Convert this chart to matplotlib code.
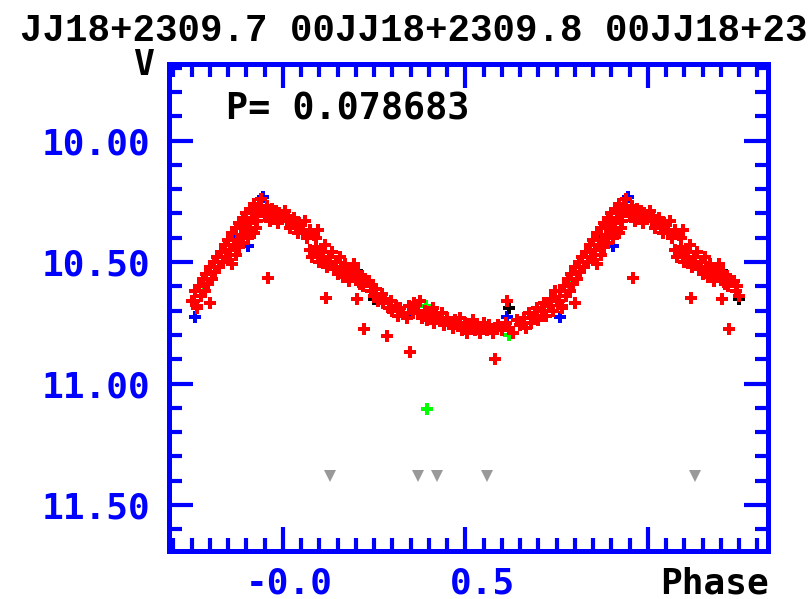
import matplotlib
matplotlib.use("Agg")
import matplotlib.pyplot as plt
from matplotlib.ticker import FixedLocator, MultipleLocator
from matplotlib.transforms import ScaledTranslation

# Phase-folded V light curve, phases stored in [0, 1)
red_phase = [
    0.005, 0.010, 0.015, 0.020, 0.030, 0.035, 0.040, 0.045, 0.055, 0.060,
    0.065, 0.075, 0.085, 0.090, 0.095,
    0.075, 0.080, 0.090, 0.095, 0.100, 0.105, 0.110, 0.115, 0.120, 0.125,
    0.130, 0.135, 0.140, 0.145, 0.150, 0.155, 0.160, 0.165, 0.170, 0.175,
    0.180, 0.185, 0.190, 0.195, 0.200, 0.205, 0.210, 0.215, 0.220, 0.225,
    0.235, 0.240, 0.245, 0.250, 0.255, 0.203, 0.260, 0.270, 0.275, 0.280,
    0.290, 0.295, 0.300, 0.310, 0.315, 0.320, 0.330, 0.340,
    0.345, 0.355, 0.360, 0.370, 0.375, 0.380, 0.390, 0.395, 0.400, 0.410,
    0.415, 0.420, 0.430, 0.435, 0.440, 0.450, 0.455, 0.465, 0.470, 0.480,
    0.485, 0.490, 0.500, 0.505, 0.510, 0.520, 0.525, 0.530, 0.540, 0.545,
    0.550, 0.560, 0.565, 0.575, 0.580, 0.590, 0.600, 0.610, 0.620, 0.630,
    0.640, 0.650, 0.614,
    0.660, 0.665, 0.675, 0.680, 0.690, 0.695, 0.700, 0.710, 0.715, 0.720,
    0.730, 0.735, 0.740, 0.750, 0.745,
    0.755, 0.760, 0.765, 0.770, 0.775, 0.780, 0.785, 0.790, 0.795, 0.800,
    0.805, 0.810, 0.815, 0.820, 0.825,
    0.830, 0.835, 0.840, 0.845, 0.850, 0.855, 0.860, 0.865, 0.870, 0.875,
    0.880, 0.885, 0.890, 0.895, 0.900,
    0.850, 0.860, 0.870, 0.880, 0.890, 0.905, 0.920,
    0.900, 0.905, 0.910, 0.915, 0.920, 0.925, 0.930, 0.935, 0.940, 0.945,
    0.950, 0.955, 0.960, 0.965, 0.970, 0.975, 0.980, 0.985, 0.990, 0.995,
    0.910, 0.925,
    0.959, 0.118, 0.222, 0.285, 0.348, 0.581, 0.800, 0.764,
]
red_mag = [
    10.29, 10.33, 10.31, 10.36, 10.32, 10.35, 10.38, 10.34, 10.37, 10.33,
    10.40, 10.37, 10.39, 10.40, 10.37,
    10.45, 10.48, 10.44, 10.47, 10.50, 10.46, 10.49, 10.43, 10.52, 10.48,
    10.50, 10.46, 10.53, 10.50, 10.55, 10.48, 10.52, 10.56, 10.51, 10.54,
    10.58, 10.53, 10.56, 10.51, 10.57, 10.54, 10.59, 10.56, 10.60, 10.57,
    10.58, 10.62, 10.60, 10.64, 10.61, 10.65, 10.66, 10.63, 10.67, 10.65,
    10.69, 10.66, 10.70, 10.68, 10.72, 10.69, 10.71, 10.73,
    10.68, 10.71, 10.67, 10.70, 10.66, 10.73, 10.70, 10.74, 10.72, 10.69,
    10.75, 10.72, 10.74, 10.71, 10.76, 10.73, 10.75, 10.77, 10.74, 10.76,
    10.73, 10.78, 10.75, 10.79, 10.77, 10.74, 10.78, 10.76, 10.79, 10.77,
    10.75, 10.78, 10.76, 10.79, 10.77, 10.76, 10.78, 10.75, 10.77, 10.79,
    10.74, 10.76, 10.66,
    10.73, 10.77, 10.71, 10.75, 10.72, 10.69, 10.74, 10.70, 10.67, 10.72,
    10.68, 10.65, 10.70, 10.66, 10.62,
    10.66, 10.62, 10.68, 10.60, 10.64, 10.57, 10.62, 10.55, 10.59, 10.52,
    10.57, 10.50, 10.54, 10.48, 10.52,
    10.46, 10.50, 10.43, 10.48, 10.41, 10.45, 10.38, 10.43, 10.36, 10.41,
    10.34, 10.39, 10.32, 10.37, 10.35,
    10.49, 10.51, 10.47, 10.44, 10.42, 10.40, 10.38,
    10.30, 10.34, 10.28, 10.32, 10.26, 10.30, 10.33, 10.27, 10.24, 10.29,
    10.31, 10.27, 10.30, 10.33, 10.28, 10.31, 10.29, 10.34, 10.30, 10.32,
    10.37, 10.36,
    10.565, 10.647, 10.775, 10.804, 10.869, 10.898, 10.667, 10.69,
]
blue_phase = [0.945, 0.904, 0.866, 0.759, 0.348, 0.614]
blue_mag = [10.232, 10.432, 10.39, 10.725, 10.71, 10.725]
green_phase = [0.783, 0.392, 0.618, 0.395]
green_mag = [10.60, 10.68, 10.80, 11.104]
black_phase = [0.214, 0.250, 0.620]
black_mag = [10.553, 10.65, 10.69]
limit_phase = [0.129, 0.370, 0.422, 0.559]
limit_mag = [11.38, 11.38, 11.38, 11.38]

PHASE_MIN, PHASE_MAX = -0.25, 1.25
BLUE = "#0000FF"
MONO = "DejaVu Sans Mono"


def fold(phase, mag):
    """Repeat points one cycle left/right inside the plotted phase range."""
    xs, ys = [], []
    for shift in (-1, 0, 1):
        for p, m in zip(phase, mag):
            if PHASE_MIN <= p + shift <= PHASE_MAX:
                xs.append(p + shift)
                ys.append(m)
    return xs, ys


fig = plt.figure(figsize=(8.08, 5.99), dpi=100)
ax = fig.add_axes([169 / 808, 1 - 551 / 599, (767.5 - 169) / 808, (551 - 64) / 599])

for ph, mg, col in [(blue_phase, blue_mag, BLUE), (green_phase, green_mag, "#00FF00"),
                    (black_phase, black_mag, "black"), (red_phase, red_mag, "#FF0000")]:
    x, y = fold(ph, mg)
    ax.plot(x, y, "P", color=col, ms=9.2, mew=0, ls="none")

x, y = fold(limit_phase, limit_mag)
ax.plot(x, y, "v", color="#999999", ms=8, mew=0, ls="none")

ax.set_xlim(-0.3123, 1.3274)
ax.set_ylim(11.689, 9.685)

for sp in ax.spines.values():
    sp.set_color(BLUE)
    sp.set_linewidth(3.6)

ax.xaxis.set_major_locator(FixedLocator([0.0, 0.5, 1.0]))
ax.xaxis.set_minor_locator(MultipleLocator(0.05))
ax.set_xticklabels(["-0.0", "0.5", ""])
ax.yaxis.set_major_locator(FixedLocator([10.0, 10.5, 11.0, 11.5]))
ax.yaxis.set_minor_locator(MultipleLocator(0.1))
ax.set_yticklabels(["10.00", "10.50", "11.00", "11.50"])

ax.tick_params(which="both", direction="in", top=True, right=True, color=BLUE, width=3.0)
ax.tick_params(which="major", length=17)
ax.tick_params(which="minor", length=9.5)
ax.tick_params(axis="y", pad=13.5)
ax.tick_params(axis="x", pad=11)

for lab in ax.get_xticklabels() + ax.get_yticklabels():
    lab.set_fontfamily(MONO)
    lab.set_fontweight("bold")
    lab.set_fontsize(26)
    lab.set_color(BLUE)
for lab in ax.get_xticklabels():
    lab.set_horizontalalignment("right")
    lab.set_transform(lab.get_transform() + ScaledTranslation(0.5, 0, fig.dpi_scale_trans))

fig.text(20 / 808, 1 - 13 / 599, "JJ18+2309.7 00JJ18+2309.8 00JJ18+23",
         family="Liberation Mono", weight="bold", fontsize=27, va="top", ha="left")
fig.text(133 / 808, 1 - 48 / 599, "V", family=MONO, weight="bold", fontsize=25,
         va="top", ha="left")
fig.text(226 / 808, 1 - 90 / 599, "P= 0.078683", family=MONO, weight="bold",
         fontsize=26.5, va="top", ha="left")
fig.text(660 / 808, 1 - 566 / 599, "Phase", family=MONO, weight="bold",
         fontsize=26, va="top", ha="left")

fig.savefig("out.png", dpi=100)
